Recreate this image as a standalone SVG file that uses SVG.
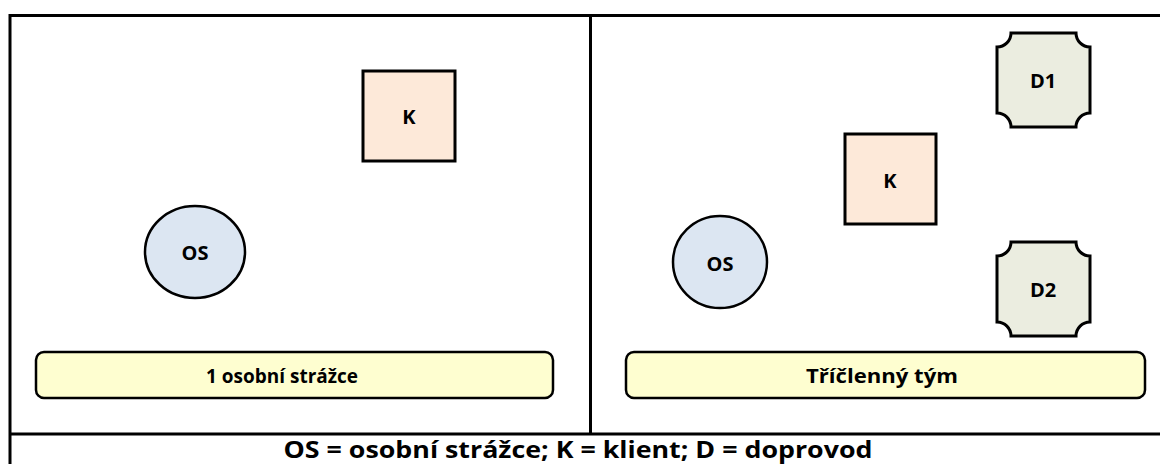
<svg xmlns="http://www.w3.org/2000/svg" width="1160" height="464" viewBox="0 0 1160 464">
  <style>
    .frame{fill:none;stroke:#000;stroke-width:3}
    .k{fill:#fde9d9;stroke:#000;stroke-width:3}
    .os{fill:#dce6f2;stroke:#000;stroke-width:2.5}
    .d{fill:#ebede0;stroke:#000;stroke-width:3}
    .bar{fill:#fefed0;stroke:#000;stroke-width:2.5}
    .lbl{font-family:"Open Sans","Liberation Sans",sans-serif;font-weight:bold;font-size:20px;fill:#000;text-anchor:middle;dominant-baseline:central}
  </style>
  <defs>
    <path id="dshape" d="M14,0 L79,0 A14,14 0 0 0 93,14 L93,80 A14,14 0 0 0 79,94 L14,94 A14,14 0 0 0 0,80 L0,14 A14,14 0 0 0 14,0 Z"/>
  </defs>
  <rect width="1160" height="464" fill="#fff"/>
  <g id="frame">
    <rect class="frame" x="10" y="15.5" width="1160" height="460"/>
    <line class="frame" x1="10" y1="434" x2="1162" y2="434"/>
    <line class="frame" x1="590.5" y1="15.5" x2="590.5" y2="434"/>
  </g>
  <g id="k-left">
    <rect class="k" x="363" y="71" width="92" height="90"/>
    <text class="lbl" x="409" y="116">K</text>
  </g>
  <g id="os-left">
    <ellipse class="os" cx="195" cy="252" rx="50" ry="46"/>
    <text class="lbl" x="195" y="252">OS</text>
  </g>
  <g id="bar-left">
    <rect class="bar" x="36" y="352" width="517" height="46" rx="8"/>
    <text class="lbl" x="282" y="375" textLength="152" lengthAdjust="spacingAndGlyphs">1 osobní strážce</text>
  </g>
  <g id="k-right">
    <rect class="k" x="845" y="134" width="91" height="90"/>
    <text class="lbl" x="890" y="180">K</text>
  </g>
  <g id="os-right">
    <ellipse class="os" cx="720" cy="262" rx="47" ry="46"/>
    <text class="lbl" x="720" y="263">OS</text>
  </g>
  <g id="d1">
    <use href="#dshape" class="d" x="997" y="33"/>
    <text class="lbl" x="1043" y="80">D1</text>
  </g>
  <g id="d2">
    <use href="#dshape" class="d" x="997" y="242"/>
    <text class="lbl" x="1043" y="289">D2</text>
  </g>
  <g id="bar-right">
    <rect class="bar" x="626" y="352" width="519" height="46" rx="8"/>
    <text class="lbl" x="882" y="375" textLength="152" lengthAdjust="spacingAndGlyphs">Tříčlenný tým</text>
  </g>
  <g id="legend">
    <text class="lbl" x="578" y="449" style="font-size:23px" textLength="589" lengthAdjust="spacingAndGlyphs">OS = osobní strážce; K = klient; D = doprovod</text>
  </g>
  <g id="connectors"/>
</svg>
